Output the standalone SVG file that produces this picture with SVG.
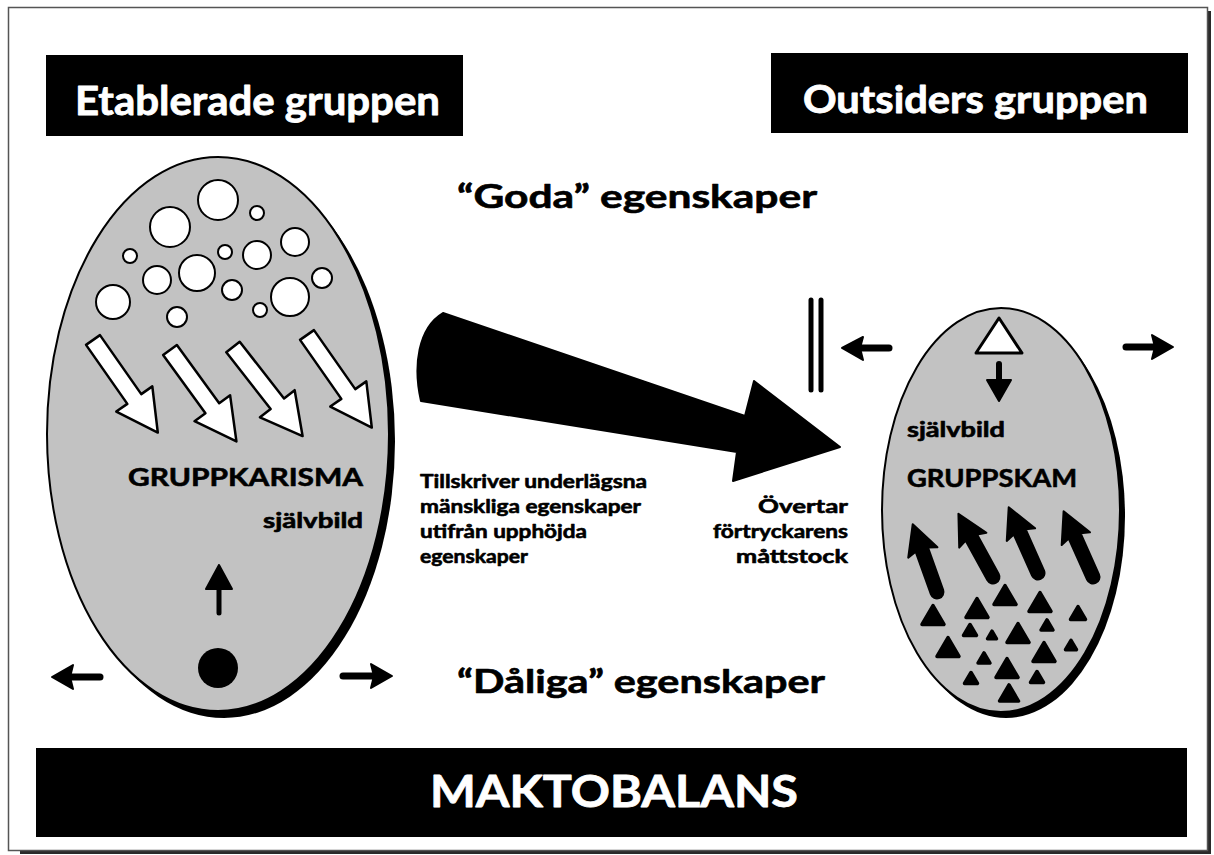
<svg xmlns="http://www.w3.org/2000/svg" width="1214" height="855" viewBox="0 0 1214 855">
<style>
text{font-family:Lato,"Noto Sans","Liberation Sans",sans-serif;font-weight:bold;stroke-linejoin:round}
.wt{fill:#fff;stroke:#fff;stroke-width:0.8}
.bk{fill:#000;stroke:#000;stroke-width:0.6}
.oval{fill:#c2c2c2;stroke:#000;stroke-width:2}
.shadow{fill:#000}
.bubble{fill:#fff;stroke:#000;stroke-width:2}
.warrow{fill:#fff;stroke:#000;stroke-width:2.5;stroke-linejoin:round}
.barrow{fill:#000;stroke:#000;stroke-width:2;stroke-linejoin:round}
.tri{fill:#000;stroke:#000;stroke-width:3.5;stroke-linejoin:round}
.shaft{stroke:#000;stroke-linecap:round;fill:none}
</style>
<defs>
<polygon id="wa" points="0,-8.5 72,-8.5 72,-22 113,0 72,22 72,8.5 0,8.5"/>
<path id="ba" d="M0,-6.5 L45,-6.5 L42,-15.5 L72,0 L42,15.5 L45,6.5 L0,6.5 A6.5,6.5 0 0 1 0,-6.5 Z"/>
</defs>

<g id="frame">
<rect x="20" y="11" width="1191" height="843" fill="#2a2a2a"/>
<rect x="8.5" y="7.5" width="1199" height="843" fill="#fff" stroke="#555" stroke-width="1.5"/>
</g>

<g id="header-left">
<rect x="46" y="55" width="417" height="81" fill="#000"/>
<text class="wt" x="75" y="115" font-size="41" textLength="365" lengthAdjust="spacingAndGlyphs">Etablerade gruppen</text>
</g>

<g id="header-right">
<rect x="771" y="53" width="417" height="80" fill="#000"/>
<text class="wt" x="803" y="113" font-size="38" textLength="345" lengthAdjust="spacingAndGlyphs">Outsiders gruppen</text>
</g>

<g id="label-goda">
<text class="bk" x="457" y="208" font-size="32" textLength="360" lengthAdjust="spacingAndGlyphs">“Goda” egenskaper</text>
</g>
<g id="label-daliga">
<text class="bk" x="457" y="693" font-size="32" textLength="368" lengthAdjust="spacingAndGlyphs">“Dåliga” egenskaper</text>
</g>

<g id="established-group">
<ellipse class="shadow" cx="224" cy="441" rx="171" ry="277"/>
<ellipse class="oval" cx="218" cy="434" rx="171" ry="277"/>
<circle class="bubble" cx="218" cy="200" r="20"/>
<circle class="bubble" cx="170" cy="227" r="20"/>
<circle class="bubble" cx="257" cy="213" r="7"/>
<circle class="bubble" cx="295" cy="242" r="14"/>
<circle class="bubble" cx="130" cy="256" r="7"/>
<circle class="bubble" cx="225" cy="252" r="7"/>
<circle class="bubble" cx="257" cy="255" r="14"/>
<circle class="bubble" cx="157" cy="280" r="14"/>
<circle class="bubble" cx="197" cy="273" r="18"/>
<circle class="bubble" cx="322" cy="278" r="10"/>
<circle class="bubble" cx="232" cy="290" r="10"/>
<circle class="bubble" cx="113" cy="302" r="17"/>
<circle class="bubble" cx="290" cy="297" r="19"/>
<circle class="bubble" cx="260" cy="310" r="7"/>
<circle class="bubble" cx="177" cy="317" r="10"/>
<use href="#wa" class="warrow" transform="translate(93,340) rotate(55)"/>
<use href="#wa" class="warrow" transform="translate(170,350) rotate(54)"/>
<use href="#wa" class="warrow" transform="translate(233,347) rotate(52)"/>
<use href="#wa" class="warrow" transform="translate(307,335) rotate(55)"/>
<text class="bk" x="128" y="486" font-size="25" textLength="235" lengthAdjust="spacingAndGlyphs">GRUPPKARISMA</text>
<text class="bk" x="263" y="528" font-size="20" textLength="100" lengthAdjust="spacingAndGlyphs">självbild</text>
<line class="shaft" x1="219" y1="586" x2="219" y2="613" stroke-width="5"/>
<polygon class="barrow" points="206,589 232,589 219,565"/>
<circle cx="218" cy="668" r="20" fill="#000"/>
<line class="shaft" x1="70" y1="677" x2="100" y2="677" stroke-width="7"/>
<polygon class="barrow" points="52,677 73,665 70,677 73,689"/>
<line class="shaft" x1="343" y1="676" x2="374" y2="676" stroke-width="7"/>
<polygon class="barrow" points="392,676 371,664 374,676 371,688"/>
</g>

<g id="outsider-group">
<ellipse class="shadow" cx="1006" cy="516" rx="119" ry="202"/>
<ellipse class="oval" cx="1001" cy="510" rx="119" ry="202"/>
<polygon points="999,318 1022,353 976,353" fill="#fff" stroke="#000" stroke-width="3" stroke-linejoin="round"/>
<line class="shaft" x1="999" y1="364" x2="999" y2="383" stroke-width="6"/>
<polygon class="barrow" points="987,380 1011,380 999,401"/>
<text class="bk" x="907" y="437" font-size="20" textLength="98" lengthAdjust="spacingAndGlyphs">självbild</text>
<text class="bk" x="907" y="487" font-size="25" textLength="170" lengthAdjust="spacingAndGlyphs">GRUPPSKAM</text>
<use href="#ba" class="barrow" transform="translate(937,592) rotate(-109.7)"/>
<use href="#ba" class="barrow" transform="translate(993,577) rotate(-118.7)"/>
<use href="#ba" class="barrow" transform="translate(1038,573) rotate(-114)"/>
<use href="#ba" class="barrow" transform="translate(1093,577) rotate(-114.1)"/>
<polygon class="tri" points="933,605.6 944,624.4 922,624.4"/>
<polygon class="tri" points="977,598.6 988,617.4 966,617.4"/>
<polygon class="tri" points="1005,585.6 1016,604.4 994,604.4"/>
<polygon class="tri" points="1040,592.6 1051,611.4 1029,611.4"/>
<polygon class="tri" points="1078,606.6 1085.5,619.4 1070.5,619.4"/>
<polygon class="tri" points="970,624.5 976.5,635.5 963.5,635.5"/>
<polygon class="tri" points="992,631.2 996.5,638.8 987.5,638.8"/>
<polygon class="tri" points="1018,623.6 1029,642.4 1007,642.4"/>
<polygon class="tri" points="1047,619.9 1053,630.1 1041,630.1"/>
<polygon class="tri" points="948,637.6 959,656.4 937,656.4"/>
<polygon class="tri" points="984,652.9 990,663.1 978,663.1"/>
<polygon class="tri" points="1007,658.6 1018,677.4 996,677.4"/>
<polygon class="tri" points="1044,642.6 1055,661.4 1033,661.4"/>
<polygon class="tri" points="1071,640.3 1076.5,649.7 1065.5,649.7"/>
<polygon class="tri" points="971,672.5 977.5,683.5 964.5,683.5"/>
<polygon class="tri" points="1037,671.5 1043.5,682.5 1030.5,682.5"/>
<polygon class="tri" points="1009,684.9 1018.5,701.1 999.5,701.1"/>
<line class="shaft" x1="859" y1="348" x2="889" y2="348" stroke-width="7"/>
<polygon class="barrow" points="842,348 863,337 860,348 863,360"/>
<line class="shaft" x1="1126" y1="347" x2="1156" y2="347" stroke-width="7"/>
<polygon class="barrow" points="1173,347 1152,335 1155,347 1152,359"/>
</g>

<g id="barrier">
<line class="shaft" x1="811" y1="300" x2="811" y2="390" stroke-width="5"/>
<line class="shaft" x1="821" y1="300" x2="821" y2="390" stroke-width="5"/>
</g>

<g id="connectors">
<path d="M443,313 L745,416 L754,381 L840,447 L733,481 L737,452 L421,401 C413,366 418,328 443,313 Z" fill="#000" stroke="#000" stroke-width="2" stroke-linejoin="round"/>
</g>

<g id="label-tillskriver">
<text class="bk" x="420" y="488" font-size="19" textLength="227" lengthAdjust="spacingAndGlyphs">Tillskriver underlägsna</text>
<text class="bk" x="420" y="513" font-size="19" textLength="221" lengthAdjust="spacingAndGlyphs">mänskliga egenskaper</text>
<text class="bk" x="420" y="538" font-size="19" textLength="167" lengthAdjust="spacingAndGlyphs">utifrån upphöjda</text>
<text class="bk" x="420" y="563" font-size="19" textLength="108" lengthAdjust="spacingAndGlyphs">egenskaper</text>
</g>

<g id="label-overtar">
<text class="bk" x="758" y="513" font-size="19" textLength="90" lengthAdjust="spacingAndGlyphs">Övertar</text>
<text class="bk" x="713" y="538" font-size="19" textLength="135" lengthAdjust="spacingAndGlyphs">förtryckarens</text>
<text class="bk" x="736" y="563" font-size="19" textLength="112" lengthAdjust="spacingAndGlyphs">måttstock</text>
</g>

<g id="footer">
<rect x="36" y="748" width="1151" height="89" fill="#000"/>
<text class="wt" x="430" y="807" font-size="44" textLength="368" lengthAdjust="spacingAndGlyphs">MAKTOBALANS</text>
</g>
</svg>
